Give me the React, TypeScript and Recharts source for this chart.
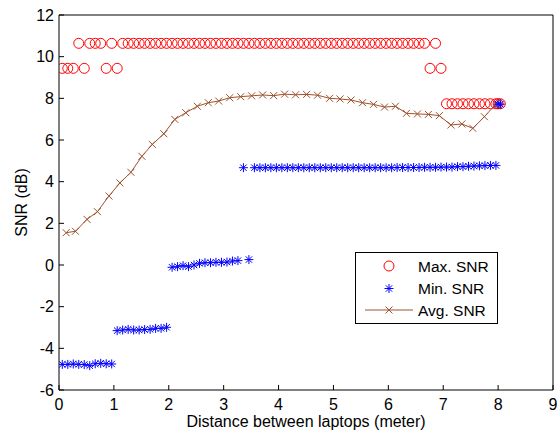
// SNR vs. laptop distance: max / min markers plus the averaged trace,
// drawn in a boxed frame with inward ticks on all four sides.
import { ScatterChart, Scatter, XAxis, YAxis, Legend } from 'recharts'

// Distance (m) of every measurement position.
const DIST = [
  0.06, 0.16, 0.26, 0.36, 0.46, 0.56, 0.66, 0.76, 0.86, 0.96,
  1.06, 1.16, 1.26, 1.36, 1.46, 1.56, 1.66, 1.76, 1.86, 1.96,
  2.06, 2.16, 2.26, 2.36, 2.46, 2.56, 2.66, 2.76, 2.86, 2.96,
  3.06, 3.16, 3.26, 3.36, 3.46, 3.56, 3.66, 3.76, 3.86, 3.96,
  4.06, 4.16, 4.26, 4.36, 4.46, 4.56, 4.66, 4.76, 4.86, 4.96,
  5.06, 5.16, 5.26, 5.36, 5.46, 5.56, 5.66, 5.76, 5.86, 5.96,
  6.06, 6.16, 6.26, 6.36, 6.46, 6.56, 6.66, 6.76, 6.86, 6.96,
  7.06, 7.16, 7.26, 7.36, 7.46, 7.56, 7.66, 7.76, 7.86, 7.96,
  8.0, 8.04,
]

const MAX_SNR = [
  9.44, 9.44, 9.44, 10.64, 9.44, 10.64, 10.64, 10.64, 9.44, 10.64,
  9.44, 10.64, 10.64, 10.64, 10.64, 10.64, 10.64, 10.64, 10.64, 10.64,
  10.64, 10.64, 10.64, 10.64, 10.64, 10.64, 10.64, 10.64, 10.64, 10.64,
  10.64, 10.64, 10.64, 10.64, 10.64, 10.64, 10.64, 10.64, 10.64, 10.64,
  10.64, 10.64, 10.64, 10.64, 10.64, 10.64, 10.64, 10.64, 10.64, 10.64,
  10.64, 10.64, 10.64, 10.64, 10.64, 10.64, 10.64, 10.64, 10.64, 10.64,
  10.64, 10.64, 10.64, 10.64, 10.64, 10.64, 10.64, 9.44, 10.64, 9.44,
  7.74, 7.74, 7.74, 7.74, 7.74, 7.74, 7.74, 7.74, 7.74, 7.74,
  7.74, 7.74,
]

const MIN_SNR = [
  -4.77, -4.77, -4.75, -4.77, -4.78, -4.83, -4.74, -4.72, -4.74, -4.75,
  -3.15, -3.12, -3.09, -3.12, -3.12, -3.1, -3.09, -3.04, -3.04, -2.99,
  -0.11, -0.08, -0.03, -0.08, 0.0, 0.08, 0.11, 0.11, 0.13, 0.13,
  0.14, 0.19, 0.21, 4.67, 0.26, 4.67, 4.67, 4.67, 4.67, 4.67,
  4.67, 4.67, 4.67, 4.67, 4.67, 4.67, 4.67, 4.67, 4.67, 4.67,
  4.67, 4.67, 4.67, 4.67, 4.67, 4.67, 4.67, 4.67, 4.67, 4.67,
  4.67, 4.68, 4.68, 4.68, 4.68, 4.68, 4.69, 4.69, 4.69, 4.7,
  4.7, 4.7, 4.72, 4.72, 4.74, 4.75, 4.76, 4.77, 4.78, 4.78,
  7.72, 7.72,
]

// The averaged trace is sampled every 0.2 m.
const AVG_DIST = [
  0.13, 0.3, 0.51, 0.7, 0.91, 1.11, 1.31, 1.51, 1.7, 1.91,
  2.11, 2.31, 2.52, 2.72, 2.91, 3.11, 3.31, 3.51, 3.71, 3.91,
  4.11, 4.31, 4.51, 4.71, 4.93, 5.12, 5.32, 5.53, 5.73, 5.93,
  6.13, 6.33, 6.53, 6.73, 6.93, 7.14, 7.34, 7.54, 7.75, 7.96,
]

const AVG_SNR = [
  1.55, 1.62, 2.19, 2.56, 3.31, 3.94, 4.45, 5.22, 5.79, 6.3,
  6.99, 7.31, 7.62, 7.79, 7.87, 8.03, 8.08, 8.12, 8.16, 8.13,
  8.2, 8.17, 8.19, 8.15, 8.0, 7.97, 7.92, 7.79, 7.71, 7.58,
  7.62, 7.28, 7.25, 7.23, 7.17, 6.72, 6.77, 6.56, 7.12, 7.72,
]

const X_TICKS = [0, 1, 2, 3, 4, 5, 6, 7, 8, 9]
const Y_TICKS = [-6, -4, -2, 0, 2, 4, 6, 8, 10, 12]

const FONT = '"Liberation Sans", Arial, Helvetica, sans-serif'
const RED = '#ff0000'
const BLUE = '#0000ff'
const BROWN = '#a0522d'

const maxPoints = DIST.map((x, i) => ({ x, y: MAX_SNR[i] }))
const minPoints = DIST.map((x, i) => ({ x, y: MIN_SNR[i] }))
const avgPoints = AVG_DIST.map((x, i) => ({ x, y: AVG_SNR[i] }))

const tickStyle = { fill: '#000', fontSize: 16, fontFamily: FONT }

function CircleMark({ cx, cy }: { cx?: number; cy?: number }) {
  if (cx == null || cy == null) return null
  return <circle cx={cx} cy={cy} r={5} fill="none" stroke={RED} strokeWidth={1} />
}

function StarMark({ cx, cy }: { cx?: number; cy?: number }) {
  if (cx == null || cy == null) return null
  return (
    <g stroke={BLUE} strokeWidth={1}>
      <line x1={cx - 4.5} y1={cy} x2={cx + 4.5} y2={cy} />
      <line x1={cx} y1={cy - 4.5} x2={cx} y2={cy + 4.5} />
      <line x1={cx - 3.2} y1={cy - 3.2} x2={cx + 3.2} y2={cy + 3.2} />
      <line x1={cx - 3.2} y1={cy + 3.2} x2={cx + 3.2} y2={cy - 3.2} />
    </g>
  )
}

function CrossMark({ cx, cy }: { cx?: number; cy?: number }) {
  if (cx == null || cy == null) return null
  return (
    <g stroke={BROWN} strokeWidth={1}>
      <line x1={cx - 3.5} y1={cy - 3.5} x2={cx + 3.5} y2={cy + 3.5} />
      <line x1={cx - 3.5} y1={cy + 3.5} x2={cx + 3.5} y2={cy - 3.5} />
    </g>
  )
}

// Boxed legend, same glyphs as the series.
function LegendBox() {
  const rows = [14, 36.5, 58]
  const text = { fontFamily: FONT, fontSize: 15.5, fill: '#000' }
  return (
    <svg width={143} height={72} style={{ display: 'block' }}>
      <rect x={0.5} y={0.5} width={142} height={71} fill="#fff" stroke="#000" />
      <CircleMark cx={34} cy={rows[0]} />
      <StarMark cx={34} cy={rows[1]} />
      <line x1={10} y1={rows[2]} x2={58} y2={rows[2]} stroke={BROWN} strokeWidth={1} />
      <CrossMark cx={34} cy={rows[2]} />
      <text x={63} y={rows[0] + 5.5} {...text}>Max. SNR</text>
      <text x={63} y={rows[1] + 5.5} {...text}>Min. SNR</text>
      <text x={63} y={rows[2] + 5.5} {...text}>Avg. SNR</text>
    </svg>
  )
}

export default function App() {
  return (
    <div style={{ position: 'absolute', left: 0, top: 0, background: '#fff' }}>
      <ScatterChart
        width={557}
        height={432}
        margin={{ top: 14, right: 3, bottom: 0, left: 0 }}
        style={{ fontFamily: FONT }}
      >
        <XAxis
          type="number"
          dataKey="x"
          domain={[0, 9]}
          ticks={X_TICKS}
          interval={0}
          allowDataOverflow
          height={42}
          stroke="#000"
          tickSize={-5}
          tickMargin={14}
          tick={tickStyle}
          label={{
            value: 'Distance between laptops (meter)',
            position: 'insideBottom',
            offset: 5,
            fill: '#000',
            fontSize: 16,
            fontFamily: FONT,
          }}
        />
        <YAxis
          type="number"
          dataKey="y"
          domain={[-6, 12]}
          ticks={Y_TICKS}
          interval={0}
          allowDataOverflow
          width={59}
          stroke="#000"
          tickSize={-5}
          tickMargin={10}
          tick={tickStyle}
          label={{
            value: 'SNR (dB)',
            angle: -90,
            position: 'insideLeft',
            offset: 21,
            fill: '#000',
            fontSize: 16,
            fontFamily: FONT,
            style: { textAnchor: 'middle' },
          }}
        />
        <XAxis
          xAxisId="top"
          orientation="top"
          type="number"
          domain={[0, 9]}
          ticks={X_TICKS}
          interval={0}
          allowDataOverflow
          height={1}
          stroke="#000"
          tickSize={-5}
          tick={false}
        />
        <YAxis
          yAxisId="right"
          orientation="right"
          type="number"
          domain={[-6, 12]}
          ticks={Y_TICKS}
          interval={0}
          allowDataOverflow
          width={1}
          stroke="#000"
          tickSize={-5}
          tick={false}
        />
        <Scatter
          name="Max. SNR"
          data={maxPoints}
          shape={(p: any) => <CircleMark cx={p.cx} cy={p.cy} />}
          isAnimationActive={false}
        />
        <Scatter
          name="Avg. SNR"
          data={avgPoints}
          line={{ stroke: BROWN, strokeWidth: 1 }}
          lineType="joint"
          shape={(p: any) => <CrossMark cx={p.cx} cy={p.cy} />}
          isAnimationActive={false}
        />
        <Scatter
          name="Min. SNR"
          data={minPoints}
          shape={(p: any) => <StarMark cx={p.cx} cy={p.cy} />}
          isAnimationActive={false}
        />
        <Legend
          layout="horizontal"
          align="center"
          verticalAlign="middle"
          content={() => <LegendBox />}
          wrapperStyle={{ left: 355, top: 252, width: 143, height: 72 }}
        />
      </ScatterChart>
    </div>
  )
}
